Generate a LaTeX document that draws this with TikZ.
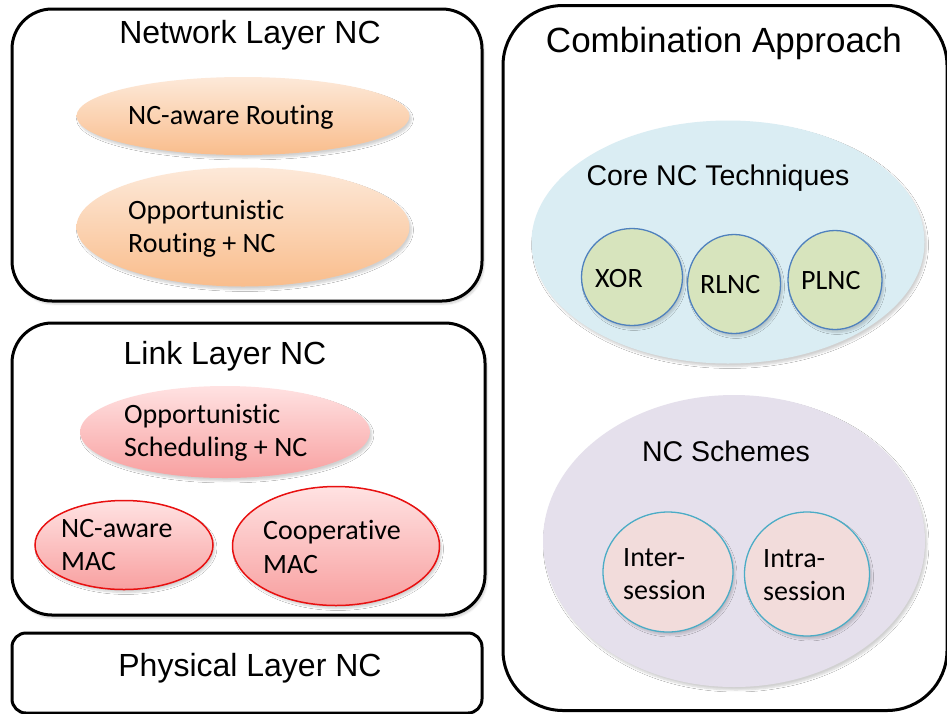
\documentclass[tikz,border=0pt]{standalone}
\usepackage{fontspec}
\setmainfont[RawFeature={-liga;-clig;-calt;-dlig}]{Carlito}
\newfontfamily\arialf{Liberation Sans}
\usetikzlibrary{shapes.geometric,shadows.blur}
\definecolor{orTop}{HTML}{FDE9D9}
\definecolor{orBot}{HTML}{F9BD8C}
\definecolor{pkTop}{HTML}{FFE2E2}
\definecolor{pkBot}{HTML}{F8A0A0}
\definecolor{redB}{HTML}{E81010}
\definecolor{blueE}{HTML}{DAEDF3}
\definecolor{greenC}{HTML}{D7E4BD}
\definecolor{blueB}{HTML}{4F81BD}
\definecolor{purpE}{HTML}{E5E0EC}
\definecolor{pinkC}{HTML}{F2DCDB}
\definecolor{cyanB}{HTML}{4BACC6}
\begin{document}
\begin{tikzpicture}[x=1pt,y=-1pt,
  box/.style={draw=black, fill=white, line width=3pt, inner sep=0pt},
  title/.style={font=\arialf\fontsize{32}{36}\selectfont, inner sep=0pt},
  subtitle/.style={font=\arialf\fontsize{28.5}{33}\selectfont, inner sep=0pt},
  itxt/.style={font=\fontsize{28}{33.5}\selectfont, align=left, anchor=west, inner sep=0pt},
  shd/.style={blur shadow={shadow xshift=2pt, shadow yshift=-3pt, shadow blur steps=6, shadow opacity=18}},
  oell/.style={ellipse, inner sep=0pt, top color=orTop, bottom color=orBot, shd},
  pell/.style={ellipse, inner sep=0pt, top color=pkTop, bottom color=pkBot, shd},
  rell/.style={ellipse, inner sep=0pt, top color=pkTop, bottom color=pkBot, draw=redB, line width=1.5pt, shd},
  gcirc/.style={ellipse, inner sep=0pt, fill=greenC, draw=blueB, line width=1.3pt, shd},
  pcirc/.style={ellipse, inner sep=0pt, fill=pinkC, draw=cyanB, line width=1.3pt, shd},
]
\useasboundingbox (0,0) rectangle (947,713);
% left boxes
\node[box, rounded corners=40pt, minimum width=470pt, minimum height=292pt, shd] (net) at (247,155) {};
\node[box, rounded corners=40pt, minimum width=473pt, minimum height=292pt, shd] (link) at (248.5,469) {};
\node[box, rounded corners=14pt, minimum width=470pt, minimum height=80pt] (phy) at (247,673) {};
\node[title] (netT) at (250,35) {Network Layer NC};
\node[title] (linkT) at (225,356) {Link Layer NC};
\node[title] (phyT) at (250,668) {Physical Layer NC};
% network layer ellipses
\node[oell, minimum width=333pt, minimum height=78pt] (ncr) at (243,116) {};
\node[itxt] (ncrT) at (128,117) {NC-aware Routing};
\node[oell, minimum width=333pt, minimum height=119pt] (opr) at (243,227) {};
\node[itxt] (oprT) at (128,229) {Opportunistic\\Routing + NC};
% link layer ellipses
\node[pell, minimum width=290pt, minimum height=92pt] (ops) at (225,432) {};
\node[itxt] (opsT) at (124,433) {Opportunistic\\Scheduling + NC};
\node[rell, minimum width=178pt, minimum height=89pt] (ncm) at (124,545) {};
\node[itxt] (ncmT) at (61,545) {NC-aware\\MAC};
\node[rell, minimum width=207pt, minimum height=119pt] (com) at (336,546) {};
\node[itxt] (comT) at (263,547) {Cooperat\kern0pt ive\\MAC};
% combination approach
\node[box, rounded corners=60pt, minimum width=444pt, minimum height=705pt] (comb) at (725,358) {};
\node[title, font=\arialf\fontsize{35}{40}\selectfont] (combT) at (724,43) {Combination Approach};
\node[ellipse, inner sep=0pt, fill=blueE, minimum width=393pt, minimum height=243pt, shd] (core) at (728,242) {};
\node[subtitle] (coreT) at (718,178) {Core NC Techniques};
\node[gcirc, minimum width=101pt, minimum height=97pt] (xor) at (632,277) {};
\node[itxt] (xorT) at (595,279) {XOR};
\node[gcirc, minimum width=93pt, minimum height=99pt] (rlnc) at (734,284) {};
\node[itxt] (rlncT) at (700,285) {RLNC};
\node[gcirc, minimum width=94pt, minimum height=99pt] (plnc) at (835,280) {};
\node[itxt] (plncT) at (801,281) {PLNC};
\node[ellipse, inner sep=0pt, fill=purpE, minimum width=382pt, minimum height=292pt, shd] (sch) at (734,541) {};
\node[subtitle] (schT) at (726,451) {NC Schemes};
\node[pcirc, minimum width=130pt, minimum height=120pt] (inter) at (668,572) {};
\node[itxt] (interT) at (623,574) {Inter-\\session};
\node[pcirc, minimum width=125pt, minimum height=124pt] (intra) at (807,574) {};
\node[itxt] (intraT) at (763,575) {Intra-\\session};
\end{tikzpicture}
\end{document}
